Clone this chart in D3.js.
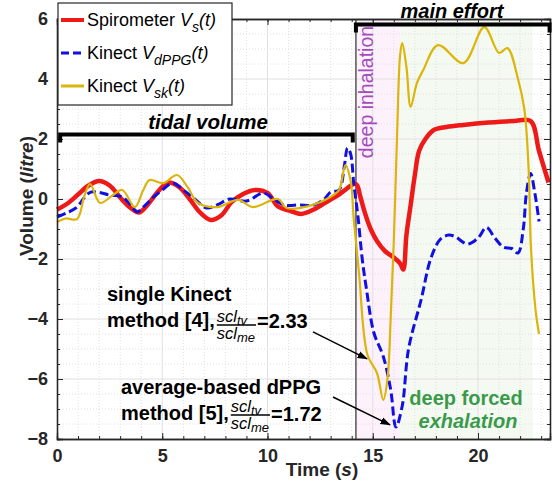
<!DOCTYPE html>
<html>
<head>
<meta charset="utf-8">
<script src="https://cdn.jsdelivr.net/npm/d3@7/dist/d3.min.js"></script>
<style>
body{margin:0;background:#fff}
svg text{font-family:"Liberation Sans",Arial,sans-serif}
</style>
</head>
<body>
<div id="chart"></div>
<script>
// spirometer volume (red)
var spiroT = [0,0.5,1,1.5,2,2.5,3,3.5,3.9,4.3,4.8,5.3,5.8,6.3,6.8,7.3,7.8,8.3,8.8,9.4,10,10.5,11.1,11.6,12.2,12.8,13.4,14.2,
    14.4,14.6,14.9,15.2,15.6,16,16.3,16.45,16.6,16.8,17,17.2,17.5,17.9,18.5,19.3,20.5,21.7,22.5,22.9,23.35]
var spiroV = [-0.35,-0.15,0.15,0.45,0.6,0.45,0.05,-0.3,-0.45,-0.2,0.25,0.55,0.4,0,-0.45,-0.7,-0.55,-0.1,0.15,0.3,0.2,-0.25,-0.4,-0.5,-0.35,-0.1,0.15,0.5,
    0.1,-0.4,-1.0,-1.4,-1.75,-1.95,-2.15,-2.35,-1.2,-0.2,0.8,1.6,2.0,2.3,2.4,2.47,2.55,2.6,2.6,1.6,0.55]
// kinect dPPG volume (blue dashed)
var dppgT = [0,0.5,0.95,1.3,1.6,2,2.5,3.1,3.5,3.8,4.2,4.6,5,5.5,6,6.5,7.1,7.6,8.2,9,9.8,10.3,10.8,11.5,12.2,12.7,13,13.4,13.65,13.8,13.95,14.1,14.3,
    14.5,14.7,15.05,15.5,15.85,16.1,16.4,16.7,17.3,17.75,18.2,18.6,18.9,19.5,20,20.4,20.8,21.2,21.6,21.9,22.15,22.3,22.5,22.7,22.9]
var dppgV = [-0.6,-0.45,-0.27,0.05,0.23,0.22,0.13,0.07,-0.2,-0.43,-0.2,0.07,0.3,0.53,0.3,0.03,-0.3,-0.2,0,-0.07,0.2,0,-0.2,-0.2,-0.2,0,0.23,0.3,1.1,1.7,1.5,0.5,-0.6,
    -2.0,-3.0,-4.45,-5.25,-6.35,-7.6,-6.9,-5.0,-3.35,-2.0,-1.35,-1.2,-1.25,-1.5,-1.3,-0.95,-1.3,-1.6,-1.65,-1.8,-1.0,0.2,0.85,0.2,-0.75]
// kinect skeleton volume (yellow)
var skT = [0,0.4,0.95,1.3,1.57,2.05,2.6,3.1,3.7,4.1,4.4,5.05,5.7,6.2,6.7,7.6,8.6,9.3,10.5,10.9,12,13,13.4,13.7,13.95,14.1,
    14.35,14.75,15.2,15.5,15.7,15.85,16,16.15,16.3,16.4,16.6,16.8,17.1,17.4,18.1,19.3,20.3,21,21.4,21.9,22.2,22.4,22.5,22.6,22.75,22.9]
var skV = [-0.77,-0.65,-0.67,0.1,0.5,-0.13,0.1,0.3,-0.27,0.3,0.63,0.53,0.8,0.4,-0.13,-0.27,-0.03,-0.27,0,-0.3,-0.23,0.07,0.3,1.13,0.6,-0.7,
    -2.5,-5.2,-5.8,-6.7,-6.0,-4.0,-1.4,2.0,4.8,5.2,4.4,3.07,3.87,4.3,5.13,4.53,5.73,4.87,5.03,4.0,3.0,1.07,-1.37,-2.6,-3.8,-4.5]

var xTicks = [0,5,10,15,20]
var yTicks = [-8,-6,-4,-2,0,2,4,6]

var w = 552
var h = 481
var padL = 57, padR = 550, padT = 19, padB = 439
var fontFam = '"Liberation Sans",Arial,sans-serif'
var axisColor = "#262626"

var x = d3.scaleLinear().domain([0,23.42]).range([padL,padR])
var y = d3.scaleLinear().domain([-8,6]).range([padB,padT])

var svg = d3.select("#chart").append("svg").attr("width",w).attr("height",h)

svg.append("defs").append("marker").attr("id","arr")
    .attr("viewBox","0 0 10 10").attr("refX",9).attr("refY",5)
    .attr("markerWidth",7).attr("markerHeight",7).attr("orient","auto")
    .append("path").attr("d","M0,1.5L10,5L0,8.5z").attr("fill","#000")

//shaded phases
svg.append("rect").attr("x",x(14.2)).attr("y",padT).attr("width",x(16.3)-x(14.2)).attr("height",padB-padT)
    .attr("fill","#fdf2fc")
svg.append("rect").attr("x",x(16.3)).attr("y",padT).attr("width",x(22.6)-x(16.3)).attr("height",padB-padT)
    .attr("fill","#f4faf2")

//minor grid
var minorX = d3.range(1,24).filter(function(d){return d%5!=0})
var minorY = d3.range(-7.5,6,0.5).filter(function(d){return d%2!=0})
svg.selectAll(".mgx").data(minorX).enter().append("line")
    .attr("x1",function(d){return x(d)}).attr("x2",function(d){return x(d)})
    .attr("y1",padT).attr("y2",padB)
    .attr("stroke","#d8d8d8").attr("stroke-width",0.8).attr("stroke-dasharray","1,2")
svg.selectAll(".mgy").data(minorY).enter().append("line")
    .attr("y1",function(d){return y(d)}).attr("y2",function(d){return y(d)})
    .attr("x1",padL).attr("x2",padR)
    .attr("stroke","#d8d8d8").attr("stroke-width",0.8).attr("stroke-dasharray","1,2")
//major grid
svg.selectAll(".gx").data(xTicks.slice(1)).enter().append("line")
    .attr("x1",function(d){return x(d)}).attr("x2",function(d){return x(d)})
    .attr("y1",padT).attr("y2",padB).attr("stroke","#e0e0e0").attr("stroke-width",1)
svg.selectAll(".gy").data(yTicks.slice(1,-1)).enter().append("line")
    .attr("y1",function(d){return y(d)}).attr("y2",function(d){return y(d)})
    .attr("x1",padL).attr("x2",padR).attr("stroke","#e0e0e0").attr("stroke-width",1)

//phase boundary
svg.append("line").attr("x1",x(14.2)).attr("x2",x(14.2)).attr("y1",padT).attr("y2",padB)
    .attr("stroke","#555").attr("stroke-width",1.5)

//series
var line = d3.line().x(function(d){return x(d[0])}).y(function(d){return y(d[1])})
    .curve(d3.curveCatmullRom.alpha(0.5))
svg.append("path").datum(d3.zip(spiroT,spiroV)).attr("d",line)
    .attr("fill","none").attr("stroke","#ee1a1a").attr("stroke-width",4.5).attr("stroke-linejoin","round")
svg.append("path").datum(d3.zip(dppgT,dppgV)).attr("d",line)
    .attr("fill","none").attr("stroke","#1010e0").attr("stroke-width",3).attr("stroke-dasharray","9,4")
svg.append("path").datum(d3.zip(skT,skV)).attr("d",line)
    .attr("fill","none").attr("stroke","#dbb50a").attr("stroke-width",2.2).attr("stroke-linejoin","round")

//axes (ticks inward, box)
function styleAxis(g){
    g.selectAll("path").attr("stroke",axisColor).attr("stroke-width",1.3)
    g.selectAll("line").attr("stroke",axisColor)
    g.selectAll("text").attr("fill",axisColor).attr("font-size",18).attr("font-weight","bold").attr("font-family",fontFam)
}
var minorTx = d3.range(0,24,1)
var minorTy = d3.range(-8,6.01,0.5)
svg.append("g").attr("transform","translate(0,"+padB+")")
    .call(d3.axisBottom(x).tickValues(minorTx).tickSize(-3).tickFormat("")).call(styleAxis)
svg.append("g").attr("transform","translate(0,"+padB+")")
    .call(d3.axisBottom(x).tickValues(xTicks).tickSize(-6).tickPadding(10).tickFormat(d3.format("d"))).call(styleAxis)
svg.append("g").attr("transform","translate(0,"+padT+")")
    .call(d3.axisTop(x).tickValues(minorTx).tickSize(-3).tickFormat("")).call(styleAxis)
svg.append("g").attr("transform","translate(0,"+padT+")")
    .call(d3.axisTop(x).tickValues(xTicks).tickSize(-6).tickFormat("")).call(styleAxis)
svg.append("g").attr("transform","translate("+padL+",0)")
    .call(d3.axisLeft(y).tickValues(minorTy).tickSize(-3).tickFormat("")).call(styleAxis)
svg.append("g").attr("transform","translate("+padL+",0)")
    .call(d3.axisLeft(y).tickValues(yTicks).tickSize(-6).tickPadding(9).tickFormat(d3.format("d"))).call(styleAxis)
svg.append("g").attr("transform","translate("+padR+",0)")
    .call(d3.axisRight(y).tickValues(minorTy).tickSize(-3).tickFormat("")).call(styleAxis)
svg.append("g").attr("transform","translate("+padR+",0)")
    .call(d3.axisRight(y).tickValues(yTicks).tickSize(-6).tickFormat("")).call(styleAxis)

//axis labels
var yl = svg.append("text").attr("transform","translate(33,196) rotate(-90)").attr("text-anchor","middle")
    .attr("font-size",19).attr("font-weight","bold").attr("fill",axisColor)
yl.append("tspan").text("Volume (")
yl.append("tspan").attr("font-style","italic").text("litre")
yl.append("tspan").text(")")
var xl = svg.append("text").attr("x",322).attr("y",476).attr("text-anchor","middle")
    .attr("font-size",19).attr("font-weight","bold").attr("fill",axisColor)
xl.append("tspan").text("Time (")
xl.append("tspan").attr("font-style","italic").text("s")
xl.append("tspan").text(")")

//brackets
function bracket(t0,t1,v){
    var yy = y(v)
    svg.append("path")
        .attr("d","M"+x(t0)+","+(yy+8)+"V"+yy+"H"+x(t1)+"V"+(yy+8))
        .attr("fill","none").attr("stroke","#000").attr("stroke-width",4)
}
bracket(0.15,14.05,2.15)
bracket(14.2,23.4,5.82)
svg.append("text").attr("x",208).attr("y",129).attr("text-anchor","middle")
    .attr("font-size",20.5).attr("font-weight","bold").attr("font-style","italic").text("tidal volume")
svg.append("text").attr("x",452).attr("y",18).attr("text-anchor","middle")
    .attr("font-size",20).attr("font-weight","bold").attr("font-style","italic").text("main effort")

//phase labels
svg.append("text").attr("transform","translate(373,92) rotate(-90)").attr("text-anchor","middle")
    .attr("font-size",19.5).attr("fill","#a54cbc").text("deep inhalation")
svg.append("text").attr("x",466).attr("y",405).attr("text-anchor","middle")
    .attr("font-size",20).attr("font-weight","bold").attr("fill","#3a9a4c").text("deep forced")
svg.append("text").attr("x",468).attr("y",428).attr("text-anchor","middle")
    .attr("font-size",20).attr("font-weight","bold").attr("font-style","italic").attr("fill","#3a9a4c").text("exhalation")

//annotations
function annot(x0,line1,line2Base,ref,ratio,fracLine){
    svg.append("text").attr("x",x0).attr("y",line2Base-26).attr("font-size",20).attr("font-weight","bold").text(line1)
    var m = svg.append("text").attr("x",x0).attr("y",line2Base).attr("font-size",20).attr("font-weight","bold").text("method ["+ref+"],")
    var fx = x0+m.node().getComputedTextLength()+2
    var num = svg.append("text").attr("x",fx).attr("y",fracLine-3).attr("font-size",16.5).attr("font-style","italic")
    num.append("tspan").text("scl")
    num.append("tspan").attr("font-size",13).attr("dy",3).text("tv")
    var den = svg.append("text").attr("x",fx).attr("y",fracLine+14).attr("font-size",16.5).attr("font-style","italic")
    den.append("tspan").text("scl")
    den.append("tspan").attr("font-size",13).attr("dy",3).text("me")
    var fw = Math.max(num.node().getComputedTextLength(),den.node().getComputedTextLength())
    svg.append("line").attr("x1",fx).attr("x2",fx+fw+1).attr("y1",fracLine).attr("y2",fracLine)
        .attr("stroke","#000").attr("stroke-width",1.3)
    svg.append("text").attr("x",fx+fw+2).attr("y",line2Base+1).attr("font-size",20).attr("font-weight","bold").text("="+ratio)
}
annot(107,"single Kinect",327,4,"2.33",325)
annot(121,"average-based dPPG",420,5,"1.72",415)

var arrows = [[12.16,-4.43,14.73,-5.33],[13.11,-6.6,15.82,-7.53]]
svg.selectAll(".arrow").data(arrows).enter().append("line")
    .attr("x1",function(d){return x(d[0])}).attr("y1",function(d){return y(d[1])})
    .attr("x2",function(d){return x(d[2])}).attr("y2",function(d){return y(d[3])})
    .attr("stroke","#000").attr("stroke-width",1.5).attr("marker-end","url(#arr)")

//legend
var legendNames = [["Spirometer ","s"],["Kinect ","dPPG"],["Kinect ","sk"]]
var legendColors = ["#ee1a1a","#1010e0","#dbb50a"]
var lg = svg.append("g")
lg.append("rect").attr("x",58).attr("y",3).attr("width",174).attr("height",102)
    .attr("fill","#fff").attr("stroke",axisColor).attr("stroke-width",1.2)
legendNames.forEach(function(n,i){
    var ly = 20+i*33
    lg.append("line").attr("x1",61).attr("x2",84).attr("y1",ly).attr("y2",ly)
        .attr("stroke",legendColors[i]).attr("stroke-width",i==0?4:3)
        .attr("stroke-dasharray",i==1?"8,4":null)
    var t = lg.append("text").attr("x",87).attr("y",ly+6).attr("font-size",18).attr("fill","#000")
    t.append("tspan").text(n[0])
    t.append("tspan").attr("font-style","italic").text("V")
    t.append("tspan").attr("font-style","italic").attr("font-size",14).attr("dy",6).text(n[1])
    t.append("tspan").attr("font-style","italic").attr("dy",-6).text("(t)")
})
</script>
</body>
</html>
